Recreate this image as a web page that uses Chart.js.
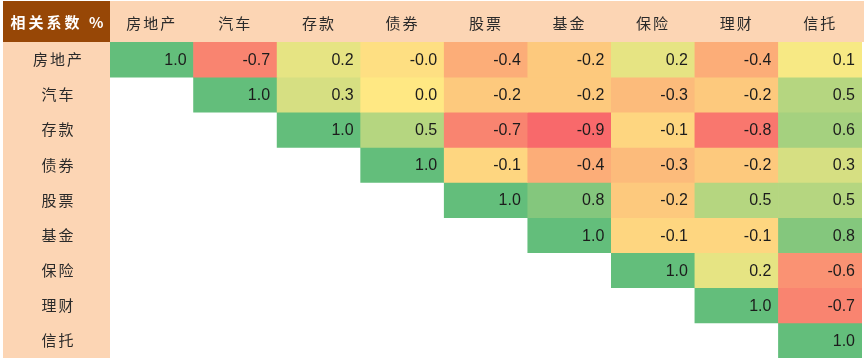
<!DOCTYPE html>
<html><head><meta charset="utf-8">
<script src="https://cdn.jsdelivr.net/npm/chart.js@4.4.0/dist/chart.umd.min.js"></script>
<style>html,body{margin:0;padding:0;background:#fff;overflow:hidden}#wrap{position:relative;width:864px;height:359px}canvas{display:block}</style>
</head><body>
<div id="wrap"><canvas id="c"></canvas></div>
<script>
const corner = '相关系数 %';
const categories = ['房地产','汽车','存款','债券','股票','基金','保险','理财','信托'];
// upper-triangle values, each row starts at its diagonal
const realEstate = [1.0, -0.7, 0.2, -0.04, -0.4, -0.2, 0.2, -0.4, 0.1];
const auto       = [1.0, 0.3, 0.03, -0.2, -0.2, -0.3, -0.2, 0.5];
const deposit    = [1.0, 0.5, -0.7, -0.9, -0.1, -0.8, 0.6];
const bond       = [1.0, -0.1, -0.4, -0.3, -0.2, 0.3];
const stock      = [1.0, 0.8, -0.2, 0.5, 0.5];
const fund       = [1.0, -0.1, -0.1, 0.8];
const insurance  = [1.0, 0.2, -0.6];
const wealth     = [1.0, -0.7];
const trust      = [1.0];
const rowValues = [realEstate, auto, deposit, bond, stock, fund, insurance, wealth, trust];

const MIN = -0.9, MID = 0.05, MAX = 1.0;
const RED = [248,105,107], YEL = [255,235,132], GRN = [99,190,123];
function colorFor(v){
  if (v === null || v === undefined) return 'rgba(0,0,0,0)';
  let b, t;
  if (v <= MID){ b = RED; t = (MID - v) / (MID - MIN); }
  else { b = GRN; t = (v - MID) / (MAX - MID); }
  t = Math.max(0, Math.min(1, t));
  const c = YEL.map((x,k)=>Math.round(x + (b[k]-x)*t));
  return `rgb(${c[0]},${c[1]},${c[2]})`;
}

const datasets = rowValues.map((vals, i) => ({
  label: categories[i],
  data: categories.map((c, j) => j >= i ? [i, i + 1] : null),
  values: categories.map((c, j) => j >= i ? vals[j - i] : null),
  backgroundColor: ctx => colorFor(ctx.dataset.values[ctx.dataIndex]),
  borderWidth: 0,
  borderSkipped: false,
  grouped: false,
  barPercentage: 1,
  categoryPercentage: 1
}));

const tablePlugin = {
  id: 'table',
  beforeDraw(chart){
    const ctx = chart.ctx, xs = chart.scales.x, ys = chart.scales.y;
    ctx.save();
    ctx.fillStyle = '#FCD5B4';
    ctx.fillRect(xs.left, xs.top, chart.width - xs.left, xs.bottom - xs.top);
    ctx.fillRect(ys.left, ys.top, ys.right - ys.left, ys.bottom - ys.top);
    ctx.fillStyle = '#974706';
    ctx.fillRect(ys.left, xs.top, ys.right - ys.left, xs.bottom - xs.top);
    ctx.fillStyle = '#ffffff';
    ctx.font = 'bold 15px "Noto Sans CJK SC"';
    ctx.letterSpacing = '3px';
    ctx.textAlign = 'center';
    ctx.textBaseline = 'middle';
    ctx.fillText(corner, (ys.left + ys.right) / 2 + 2, (xs.top + xs.bottom) / 2 + 1);
    ctx.restore();
    ctx.letterSpacing = '2px';
  },
  afterDatasetsDraw(chart){
    const ctx = chart.ctx;
    ctx.save();
    ctx.letterSpacing = '0px';
    ctx.font = '16px "Liberation Sans"';
    ctx.fillStyle = '#1c1c1c';
    ctx.textAlign = 'right';
    ctx.textBaseline = 'middle';
    chart.data.datasets.forEach((ds, i) => {
      const meta = chart.getDatasetMeta(i);
      meta.data.forEach((el, j) => {
        const v = ds.values[j];
        if (v === null) return;
        const right = el.x + el.width / 2;
        const cy = (el.y + el.base) / 2;
        ctx.fillText(v.toFixed(1), right - 7, cy + 1);
      });
    });
    ctx.restore();
  },
  afterDraw(chart){ chart.ctx.letterSpacing = '0px'; }
};

new Chart(document.getElementById('c'), {
  type: 'bar',
  data: { labels: categories, datasets },
  plugins: [tablePlugin],
  options: {
    responsive: true,
    maintainAspectRatio: false,
    animation: false,
    devicePixelRatio: 1,
    layout: { padding: { left: 3, top: 1, right: 2, bottom: 1 } },
    plugins: { legend: { display: false }, tooltip: { enabled: false } },
    scales: {
      x: {
        type: 'category',
        position: 'top',
        offset: true,
        grid: { display: false, drawTicks: false },
        border: { display: false },
        ticks: { font: { family: '"Noto Sans CJK SC"', size: 15 }, color: '#2a2a2a', padding: 10, maxRotation: 0, autoSkip: false },
        afterFit: a => { a.height = 41; a.paddingLeft = 0; a.paddingRight = 0; }
      },
      y: {
        type: 'linear',
        min: 0, max: 9,
        reverse: true,
        grid: { display: false, drawTicks: false },
        border: { display: false },
        afterBuildTicks: a => { a.ticks = categories.map((c, i) => ({ value: i + 0.5 })); },
        ticks: {
          font: { family: '"Noto Sans CJK SC"', size: 15 }, color: '#2a2a2a',
          crossAlign: 'center', padding: 29,
          callback: v => categories[Math.floor(v)]
        },
        afterFit: a => { a.width = 107; a.paddingTop = 0; a.paddingBottom = 0; }
      }
    }
  }
});
</script>
</body></html>
